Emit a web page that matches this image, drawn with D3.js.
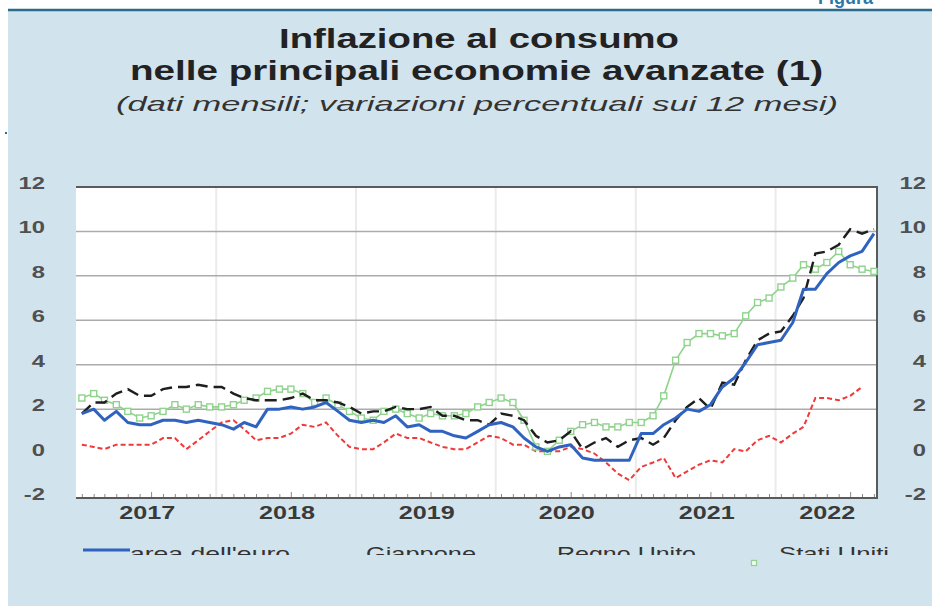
<!DOCTYPE html>
<html>
<head>
<meta charset="utf-8">
<script src="https://cdn.jsdelivr.net/npm/d3@7"></script>
<style>
  html, body { margin: 0; padding: 0; background: #ffffff; }
  svg { display: block; font-family: "Liberation Sans", Arial, sans-serif; }
</style>
</head>
<body>
<svg id="chart" width="932" height="606"></svg>
<script>
// ---------------- data (monthly, y/y % change) ----------------
const firstMonth = "2017-01";
const yearLabels = ["2017", "2018", "2019", "2020", "2021", "2022"];
const yTicks = [-2, 0, 2, 4, 6, 8, 10, 12];
const seriesNames = ["area dell'euro", "Giappone", "Regno Unito", "Stati Uniti"];

const euroArea = [
  1.8, 2.0, 1.5, 1.9, 1.4, 1.3, 1.3, 1.5, 1.5, 1.4, 1.5, 1.4,
  1.3, 1.1, 1.4, 1.2, 2.0, 2.0, 2.1, 2.0, 2.1, 2.3, 1.9, 1.5,
  1.4, 1.5, 1.4, 1.7, 1.2, 1.3, 1.0, 1.0, 0.8, 0.7, 1.0, 1.3,
  1.4, 1.2, 0.7, 0.3, 0.1, 0.3, 0.4, -0.2, -0.3, -0.3, -0.3, -0.3,
  0.9, 0.9, 1.3, 1.6, 2.0, 1.9, 2.2, 3.0, 3.4, 4.1, 4.9, 5.0,
  5.1, 5.9, 7.4, 7.4, 8.1, 8.6, 8.9, 9.1, 9.9
];
const japan = [
  0.4, 0.3, 0.2, 0.4, 0.4, 0.4, 0.4, 0.7, 0.7, 0.2, 0.6, 1.0,
  1.4, 1.5, 1.1, 0.6, 0.7, 0.7, 0.9, 1.3, 1.2, 1.4, 0.8, 0.3,
  0.2, 0.2, 0.5, 0.9, 0.7, 0.7, 0.5, 0.3, 0.2, 0.2, 0.5, 0.8,
  0.7, 0.4, 0.4, 0.1, 0.1, 0.1, 0.3, 0.2, 0.0, -0.4, -0.9, -1.2,
  -0.6, -0.4, -0.2, -1.1, -0.8, -0.5, -0.3, -0.4, 0.2, 0.1, 0.6, 0.8,
  0.5, 0.9, 1.2, 2.5, 2.5, 2.4, 2.6, 3.0
];
const unitedKingdom = [
  1.8, 2.3, 2.3, 2.7, 2.9, 2.6, 2.6, 2.9, 3.0, 3.0, 3.1, 3.0,
  3.0, 2.7, 2.5, 2.4, 2.4, 2.4, 2.5, 2.7, 2.4, 2.4, 2.3, 2.1,
  1.8, 1.9, 1.9, 2.1, 2.0, 2.0, 2.1, 1.7, 1.7, 1.5, 1.5, 1.3,
  1.8, 1.7, 1.5, 0.8, 0.5, 0.6, 1.0, 0.2, 0.5, 0.7, 0.3, 0.6,
  0.7, 0.4, 0.7, 1.5, 2.1, 2.5, 2.0, 3.2, 3.1, 4.2, 5.1, 5.4,
  5.5, 6.2, 7.0, 9.0, 9.1, 9.4, 10.1, 9.9, 10.1
];
const unitedStates = [
  2.5, 2.7, 2.4, 2.2, 1.9, 1.6, 1.7, 1.9, 2.2, 2.0, 2.2, 2.1,
  2.1, 2.2, 2.4, 2.5, 2.8, 2.9, 2.9, 2.7, 2.3, 2.5, 2.2, 1.9,
  1.6, 1.5, 1.9, 2.0, 1.8, 1.6, 1.8, 1.7, 1.7, 1.8, 2.1, 2.3,
  2.5, 2.3, 1.5, 0.3, 0.1, 0.6, 1.0, 1.3, 1.4, 1.2, 1.2, 1.4,
  1.4, 1.7, 2.6, 4.2, 5.0, 5.4, 5.4, 5.3, 5.4, 6.2, 6.8, 7.0,
  7.5, 7.9, 8.5, 8.3, 8.6, 9.1, 8.5, 8.3, 8.2
];

// ---------------- layout ----------------
const svg = d3.select("#chart");
const W = 932, H = 606;
const plot = { left: 76, right: 877, top: 187, bottom: 498 };
const STRETCH = 1.4; // the reference image is horizontally stretched

const parseMonth = d3.timeParse("%Y-%m");
const start = parseMonth(firstMonth);
const monthDate = i => new Date(start.getFullYear(), start.getMonth() + i, 15);

const x = d3.scaleTime()
  .domain([new Date(2017, 0, 1), new Date(2022, 8, 23)])
  .range([plot.left + 0.5, plot.right]);
const y = d3.scaleLinear().domain([-2, 12]).range([plot.bottom, plot.top]);

// background
svg.append("rect").attr("width", W).attr("height", H).attr("fill", "#ffffff");
svg.append("rect").attr("x", 8).attr("y", 10).attr("width", W - 8).attr("height", H - 10)
  .attr("fill", "#d1e3ed");
svg.append("line").attr("x1", 8).attr("x2", W).attr("y1", 10).attr("y2", 10)
  .attr("stroke", "#2b6c8c").attr("stroke-width", 2.5);
svg.append("text").attr("x", 818).attr("y", 4).attr("font-size", 18).attr("font-weight", "bold")
  .attr("fill", "#2a78a8").text("Figura");
svg.append("rect").attr("x", 5).attr("y", 132).attr("width", 2).attr("height", 2).attr("fill", "#2b6c8c");

// titles
const titles = [
  { text: "Inflazione al consumo", x: 279, y: 48, w: 400, size: 28, weight: "bold", style: "normal", fill: "#222" },
  { text: "nelle principali economie avanzate (1)", x: 130, y: 80, w: 693, size: 28, weight: "bold", style: "normal", fill: "#222" },
  { text: "(dati mensili; variazioni percentuali sui 12 mesi)", x: 116, y: 111, w: 722, size: 21, weight: "normal", style: "italic", fill: "#333" }
];
titles.forEach(t => {
  svg.append("text").attr("x", t.x).attr("y", t.y)
    .attr("font-size", t.size).attr("font-weight", t.weight).attr("font-style", t.style)
    .attr("fill", t.fill).attr("textLength", t.w).attr("lengthAdjust", "spacingAndGlyphs")
    .text(t.text);
});

// plot area
svg.append("rect").attr("x", plot.left).attr("y", plot.top)
  .attr("width", plot.right - plot.left).attr("height", plot.bottom - plot.top).attr("fill", "#ffffff");

// vertical year gridlines
const yearStarts = d3.timeYear.range(new Date(2018, 0, 1), x.domain()[1]);
svg.append("g").selectAll("line").data(yearStarts).join("line")
  .attr("x1", d => x(d)).attr("x2", d => x(d))
  .attr("y1", plot.top).attr("y2", plot.bottom)
  .attr("stroke", "#ebebeb").attr("stroke-width", 2);

// horizontal gridlines
svg.append("g").selectAll("line").data(yTicks.filter(v => v >= 2 && v <= 10)).join("line")
  .attr("x1", plot.left).attr("x2", plot.right)
  .attr("y1", d => y(d)).attr("y2", d => y(d))
  .attr("stroke", "#ababab").attr("stroke-width", 1.5);

// monthly ticks on bottom axis
const monthTicks = d3.timeMonth.range(new Date(2017, 0, 1), x.domain()[1]);
svg.append("g").selectAll("line").data(monthTicks).join("line")
  .attr("x1", d => x(d) + 5.8).attr("x2", d => x(d) + 5.8)
  .attr("y1", plot.bottom).attr("y2", d => plot.bottom - (d.getMonth() === 6 ? 6 : 4))
  .attr("stroke", "#8a8a8a").attr("stroke-width", 1);

// frame
svg.append("line").attr("x1", plot.left).attr("x2", plot.right + 1).attr("y1", plot.top).attr("y2", plot.top)
  .attr("stroke", "#5a5a5a").attr("stroke-width", 2);
svg.append("line").attr("x1", plot.right).attr("x2", plot.right).attr("y1", plot.top).attr("y2", plot.bottom)
  .attr("stroke", "#5a5a5a").attr("stroke-width", 2);
svg.append("line").attr("x1", plot.left).attr("x2", plot.right + 1).attr("y1", plot.bottom).attr("y2", plot.bottom)
  .attr("stroke", "#5a5a5a").attr("stroke-width", 2);

// y labels (left & right)
[{ ax: 45 }, { ax: 926 }].forEach(side => {
  svg.append("g").selectAll("text").data(yTicks).join("text")
    .attr("transform", d => `translate(${side.ax},${y(d) + 2}) scale(${STRETCH},1)`)
    .attr("text-anchor", "end").attr("font-size", 17).attr("font-weight", "bold")
    .attr("fill", "#505050").text(d => d);
});

// year labels, centred within each year's visible span
const yearCenters = yearLabels.map(lab => {
  const yr = +lab;
  const a = Math.max(+new Date(yr, 0, 1), +x.domain()[0]);
  const b = Math.min(+new Date(yr + 1, 0, 1), +x.domain()[1]);
  return { lab, cx: (x(new Date(a)) + x(new Date(b))) / 2 };
});
svg.append("g").selectAll("text").data(yearCenters).join("text")
  .attr("transform", d => `translate(${d.cx + 1},519) scale(${STRETCH},1)`)
  .attr("text-anchor", "middle").attr("font-size", 18).attr("font-weight", "bold")
  .attr("fill", "#3a3a3a").text(d => d.lab);

// series
const lineGen = d3.line().x((d, i) => x(monthDate(i))).y(d => y(d));
const g = svg.append("g");

g.append("path").datum(japan).attr("d", lineGen)
  .attr("fill", "none").attr("stroke", "#f03a3a").attr("stroke-width", 2)
  .attr("stroke-dasharray", "5,3");

g.append("path").datum(unitedStates).attr("d", lineGen)
  .attr("fill", "none").attr("stroke", "#8fd38c").attr("stroke-width", 1.6);
g.append("g").selectAll("rect").data(unitedStates).join("rect")
  .attr("x", (d, i) => x(monthDate(i)) - 3).attr("y", d => y(d) - 3)
  .attr("width", 6).attr("height", 6)
  .attr("fill", "#ffffff").attr("stroke", "#8fd38c").attr("stroke-width", 1.4);

g.append("path").datum(unitedKingdom).attr("d", lineGen)
  .attr("fill", "none").attr("stroke", "#1e1e1e").attr("stroke-width", 2.4)
  .attr("stroke-dasharray", "12,6");

g.append("path").datum(euroArea).attr("d", lineGen)
  .attr("fill", "none").attr("stroke", "#2f63bf").attr("stroke-width", 3)
  .attr("stroke-linejoin", "round");

// legend (clipped as in the reference)
svg.append("clipPath").attr("id", "legclip")
  .append("rect").attr("x", 0).attr("y", 530).attr("width", W).attr("height", 25);
const legendItems = [
  { name: seriesNames[0], x: 130, w: 160 },
  { name: seriesNames[1], x: 366, w: 110 },
  { name: seriesNames[2], x: 557, w: 139 },
  { name: seriesNames[3], x: 779, w: 110 }
];
const leg = svg.append("g").attr("clip-path", "url(#legclip)");
leg.selectAll("text").data(legendItems).join("text")
  .attr("x", d => d.x).attr("y", 560)
  .attr("font-size", 19).attr("fill", "#333")
  .attr("textLength", d => d.w).attr("lengthAdjust", "spacingAndGlyphs")
  .text(d => d.name);
svg.append("line").attr("x1", 83).attr("x2", 130).attr("y1", 550).attr("y2", 550)
  .attr("stroke", "#2f63bf").attr("stroke-width", 3);
svg.append("rect").attr("x", 751.5).attr("y", 560.5).attr("width", 5).attr("height", 5)
  .attr("fill", "#ffffff").attr("stroke", "#8fd38c").attr("stroke-width", 1.3);
</script>
</body>
</html>
